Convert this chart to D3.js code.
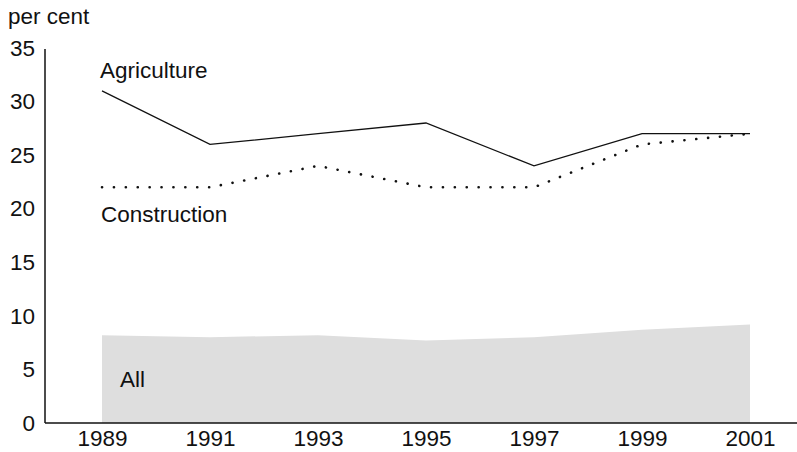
<!DOCTYPE html>
<html>
<head>
<meta charset="utf-8">
<script src="https://cdn.jsdelivr.net/npm/d3@7"></script>
<style>
  body { margin: 0; background: #fff; }
  text { font-family: "Liberation Sans", Arial, sans-serif; fill: #111; }
</style>
</head>
<body>
<svg id="chart" width="797" height="452"></svg>
<script>
// data
const years = [1989, 1991, 1993, 1995, 1997, 1999, 2001];
const agriculture = [31, 26, 27, 28, 24, 27, 27];
const construction = [22, 22, 24, 22, 22, 26, 27];
const all = [8.2, 8.0, 8.2, 7.7, 8.0, 8.7, 9.2];
const yTicks = [0, 5, 10, 15, 20, 25, 30, 35];

const fs = '22.5px';
const svg = d3.select('#chart');

// plot area
const x = d3.scaleLinear().domain([1989, 2001]).range([102, 750]);
const y = d3.scaleLinear().domain([0, 35]).range([423, 48]);

// grey area for All
svg.append('path')
  .datum(years.map((yr, i) => [yr, all[i]]))
  .attr('fill', '#dedede')
  .attr('d', d3.area().x(d => x(d[0])).y0(y(0)).y1(d => y(d[1])));

// agriculture, solid
svg.append('path')
  .datum(years.map((yr, i) => [yr, agriculture[i]]))
  .attr('fill', 'none').attr('stroke', '#111').attr('stroke-width', 1.3)
  .attr('d', d3.line().x(d => x(d[0])).y(d => y(d[1])));

// construction, dotted
svg.append('path')
  .datum(years.map((yr, i) => [yr, construction[i]]))
  .attr('fill', 'none').attr('stroke', '#111').attr('stroke-width', 2.6)
  .attr('stroke-linecap', 'round').attr('stroke-dasharray', '0.1 11.8')
  .attr('d', d3.line().x(d => x(d[0])).y(d => y(d[1])));

// axes, no tick marks
const yAxis = svg.append('g').attr('transform', 'translate(45,0)')
  .call(d3.axisLeft(y).tickValues(yTicks).tickSize(0).tickPadding(10));
yAxis.select('.domain').attr('stroke', '#111').attr('stroke-width', 1.5).attr('d', `M0,${y(35) + 1}V${y(0)}`);
yAxis.selectAll('text').style('font-size', fs).style('font-family', '"Liberation Sans", Arial, sans-serif').attr('fill', '#111');

const xAxis = svg.append('g').attr('transform', `translate(0,${y(0)})`)
  .call(d3.axisBottom(x).tickValues(years).tickFormat(d3.format('d')).tickSize(0).tickPadding(7));
xAxis.select('.domain').attr('stroke', '#111').attr('stroke-width', 1.5).attr('d', 'M45,0H797');
xAxis.selectAll('text').style('font-size', fs).style('font-family', '"Liberation Sans", Arial, sans-serif').attr('fill', '#111');

// labels
svg.append('text').attr('x', 8).attr('y', 24).style('font-size', fs).text('per cent');
svg.append('text').attr('x', 100).attr('y', 78).style('font-size', fs).text('Agriculture');
svg.append('text').attr('x', 101).attr('y', 222).style('font-size', fs).text('Construction');
svg.append('text').attr('x', 120).attr('y', 387).style('font-size', fs).text('All');
</script>
</body>
</html>
